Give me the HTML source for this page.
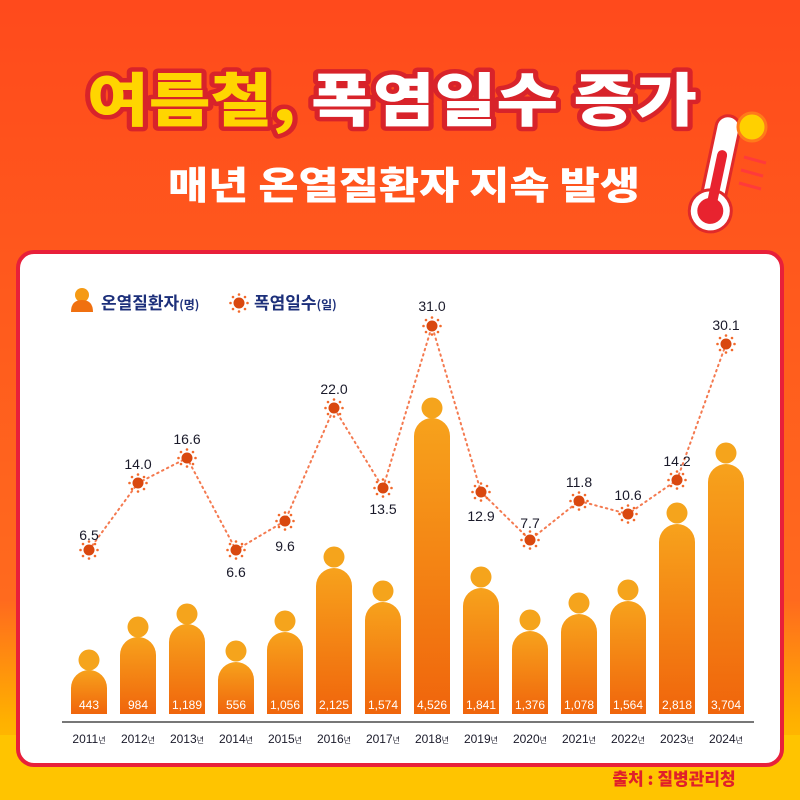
<!DOCTYPE html>
<html><head><meta charset="utf-8"><style>
html,body{margin:0;padding:0;width:800px;height:800px;overflow:hidden}
text{font-family:"Liberation Sans","Noto Sans CJK KR",sans-serif}
.k{font-family:"Noto Sans CJK KR","Liberation Sans",sans-serif}
</style></head><body>
<svg width="800" height="800" viewBox="0 0 800 800" xmlns="http://www.w3.org/2000/svg">
<defs>
<linearGradient id="bg" x1="0" y1="0" x2="0" y2="1">
<stop offset="0" stop-color="#ff4a1c"/><stop offset="0.75" stop-color="#ff6a1e"/><stop offset="0.9" stop-color="#ffb000"/><stop offset="1" stop-color="#ffcc00"/>
</linearGradient>
<linearGradient id="bar" x1="0" y1="0" x2="0" y2="1">
<stop offset="0" stop-color="#f7a21c"/><stop offset="1" stop-color="#f0650c"/>
</linearGradient>
<g id="sun"><circle r="5.5" fill="#d9480f"/><g fill="#f26a2c"><circle cx="0" cy="-8.5" r="1.3"/><circle cx="0" cy="8.5" r="1.3"/><circle cx="-8.5" cy="0" r="1.3"/><circle cx="8.5" cy="0" r="1.3"/><circle cx="6" cy="6" r="1.3"/><circle cx="-6" cy="6" r="1.3"/><circle cx="6" cy="-6" r="1.3"/><circle cx="-6" cy="-6" r="1.3"/></g></g>
</defs>
<rect width="800" height="800" fill="url(#bg)"/>
<rect x="0" y="735" width="800" height="65" fill="#ffc400"/>
<!-- title -->
<text x="392" y="121" text-anchor="middle" class="k" font-size="58" font-weight="900" textLength="610" lengthAdjust="spacingAndGlyphs" stroke="#d8232a" stroke-width="9" stroke-linejoin="round" paint-order="stroke" fill="#fff"><tspan fill="#ffd500">여름철,</tspan> 폭염일수 증가</text>
<text x="404" y="199" text-anchor="middle" class="k" font-size="38" font-weight="900" textLength="472" lengthAdjust="spacingAndGlyphs" fill="#fff">매년 온열질환자 지속 발생</text>
<!-- thermometer -->
<g transform="rotate(12 720 170)">
<rect x="707" y="115" width="24" height="100" rx="12" fill="#fff" stroke="#e02a2a" stroke-width="3"/>
<circle cx="719" cy="212" r="21" fill="#fff" stroke="#e02a2a" stroke-width="3"/>
<circle cx="719" cy="212" r="13" fill="#e8232f"/>
<rect x="714" y="150" width="10" height="62" rx="5" fill="#e8232f"/>
</g>
<circle cx="752" cy="127" r="14" fill="#ffd000" stroke="#ff7a1a" stroke-width="3"/>
<g stroke="#ff3a3a" stroke-width="3"><line x1="744" y1="157" x2="766" y2="163"/><line x1="741" y1="170" x2="763" y2="176"/><line x1="739" y1="183" x2="761" y2="189"/></g>
<!-- card -->
<rect x="18" y="252" width="764" height="513" rx="16" fill="#fff" stroke="#e8203a" stroke-width="4"/>
<!-- legend -->
<circle cx="82" cy="295" r="7" fill="#f59a14"/>
<path d="M71 312 Q71 300 82 300 Q93 300 93 312 Z" fill="#f07010"/>
<text x="101" y="309" class="k" font-size="17" font-weight="700" fill="#1c2f7a">온열질환자<tspan font-size="12">(명)</tspan></text>
<use href="#sun" x="239" y="303"/>
<text x="254" y="309" class="k" font-size="17" font-weight="700" fill="#1c2f7a">폭염일수<tspan font-size="12">(일)</tspan></text>
<!-- bars -->
<g fill="url(#bar)">
<path d="M71 714V688A18 18 0 0 1 107 688V714Z"/><circle cx="89" cy="660" r="10.5" fill="#f5a41c"/>
<path d="M120 714V655A18 18 0 0 1 156 655V714Z"/><circle cx="138" cy="627" r="10.5" fill="#f5a41c"/>
<path d="M169 714V642A18 18 0 0 1 205 642V714Z"/><circle cx="187" cy="614" r="10.5" fill="#f5a41c"/>
<path d="M218 714V680A18 18 0 0 1 254 680V714Z"/><circle cx="236" cy="651" r="10.5" fill="#f5a41c"/>
<path d="M267 714V650A18 18 0 0 1 303 650V714Z"/><circle cx="285" cy="621" r="10.5" fill="#f5a41c"/>
<path d="M316 714V586A18 18 0 0 1 352 586V714Z"/><circle cx="334" cy="557" r="10.5" fill="#f5a41c"/>
<path d="M365 714V620A18 18 0 0 1 401 620V714Z"/><circle cx="383" cy="591" r="10.5" fill="#f5a41c"/>
<path d="M414 714V436A18 18 0 0 1 450 436V714Z"/><circle cx="432" cy="408" r="10.5" fill="#f5a41c"/>
<path d="M463 714V606A18 18 0 0 1 499 606V714Z"/><circle cx="481" cy="577" r="10.5" fill="#f5a41c"/>
<path d="M512 714V649A18 18 0 0 1 548 649V714Z"/><circle cx="530" cy="620" r="10.5" fill="#f5a41c"/>
<path d="M561 714V632A18 18 0 0 1 597 632V714Z"/><circle cx="579" cy="603" r="10.5" fill="#f5a41c"/>
<path d="M610 714V619A18 18 0 0 1 646 619V714Z"/><circle cx="628" cy="590" r="10.5" fill="#f5a41c"/>
<path d="M659 714V542A18 18 0 0 1 695 542V714Z"/><circle cx="677" cy="513" r="10.5" fill="#f5a41c"/>
<path d="M708 714V482A18 18 0 0 1 744 482V714Z"/><circle cx="726" cy="453" r="10.5" fill="#f5a41c"/>
</g>
<g fill="#fff" font-size="12" text-anchor="middle">
<text x="89" y="709">443</text><text x="138" y="709">984</text><text x="187" y="709">1,189</text><text x="236" y="709">556</text><text x="285" y="709">1,056</text><text x="334" y="709">2,125</text><text x="383" y="709">1,574</text><text x="432" y="709">4,526</text><text x="481" y="709">1,841</text><text x="530" y="709">1,376</text><text x="579" y="709">1,078</text><text x="628" y="709">1,564</text><text x="677" y="709">2,818</text><text x="726" y="709">3,704</text>
</g>
<line x1="62" y1="722" x2="754" y2="722" stroke="#777" stroke-width="2"/>
<g fill="#1a1a2a" font-size="12" text-anchor="middle">
<text x="89" y="743">2011<tspan font-size="8">년</tspan></text><text x="138" y="743">2012<tspan font-size="8">년</tspan></text><text x="187" y="743">2013<tspan font-size="8">년</tspan></text><text x="236" y="743">2014<tspan font-size="8">년</tspan></text><text x="285" y="743">2015<tspan font-size="8">년</tspan></text><text x="334" y="743">2016<tspan font-size="8">년</tspan></text><text x="383" y="743">2017<tspan font-size="8">년</tspan></text><text x="432" y="743">2018<tspan font-size="8">년</tspan></text><text x="481" y="743">2019<tspan font-size="8">년</tspan></text><text x="530" y="743">2020<tspan font-size="8">년</tspan></text><text x="579" y="743">2021<tspan font-size="8">년</tspan></text><text x="628" y="743">2022<tspan font-size="8">년</tspan></text><text x="677" y="743">2023<tspan font-size="8">년</tspan></text><text x="726" y="743">2024<tspan font-size="8">년</tspan></text>
</g>
<!-- line -->
<polyline points="89,550 138,483 187,458 236,550 285,521 334,408 383,488 432,326 481,492 530,540 579,501 628,514 677,480 726,344" fill="none" stroke="#f47a50" stroke-width="2" stroke-dasharray="1.5 4" stroke-linecap="round"/>
<use href="#sun" x="89" y="550"/><use href="#sun" x="138" y="483"/><use href="#sun" x="187" y="458"/><use href="#sun" x="236" y="550"/><use href="#sun" x="285" y="521"/><use href="#sun" x="334" y="408"/><use href="#sun" x="383" y="488"/><use href="#sun" x="432" y="326"/><use href="#sun" x="481" y="492"/><use href="#sun" x="530" y="540"/><use href="#sun" x="579" y="501"/><use href="#sun" x="628" y="514"/><use href="#sun" x="677" y="480"/><use href="#sun" x="726" y="344"/>
<g fill="#1a1a2a" font-size="14" text-anchor="middle">
<text x="89" y="540">6.5</text><text x="138" y="469">14.0</text><text x="187" y="444">16.6</text><text x="236" y="577">6.6</text><text x="285" y="551">9.6</text><text x="334" y="394">22.0</text><text x="383" y="514">13.5</text><text x="432" y="311">31.0</text><text x="481" y="521">12.9</text><text x="530" y="528">7.7</text><text x="579" y="487">11.8</text><text x="628" y="500">10.6</text><text x="677" y="466">14.2</text><text x="726" y="330">30.1</text>
</g>
<text x="674" y="785" text-anchor="middle" class="k" font-size="17" font-weight="900" fill="#e0202a">출처 : 질병관리청</text>
</svg>
</body></html>
